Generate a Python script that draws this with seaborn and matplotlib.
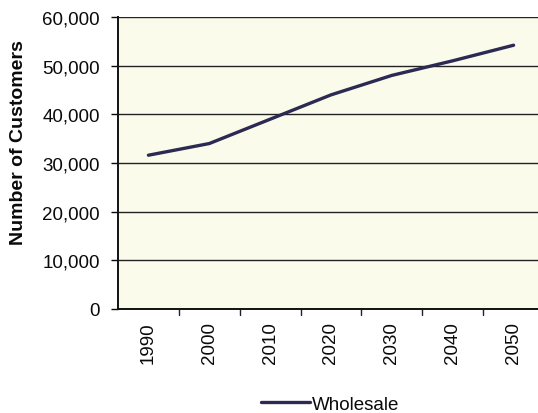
import matplotlib
matplotlib.use("Agg")
import matplotlib.pyplot as plt
import seaborn as sns
import pandas as pd
from matplotlib.ticker import FuncFormatter

years = ["1990", "2000", "2010", "2020", "2030", "2040", "2050"]
wholesale = [31600, 34000, 39000, 44000, 48000, 51000, 54200]
series_name = "Wholesale"

sns.set_theme(style="white")
plt.rcParams['font.family'] = ['Liberation Sans', 'DejaVu Sans']

df = pd.DataFrame({"Year": years, "Customers": wholesale, "Series": series_name})

fig = plt.figure(figsize=(5.38, 4.14), dpi=100)
ax = fig.add_axes([118/538, 104/414, 426/538, 292/414])
ax.set_facecolor("#fbfbec")

sns.lineplot(data=df, x="Year", y="Customers", hue="Series", palette=["#2b2a52"],
             linewidth=2.4, ax=ax, sort=False, legend=True)

ax.set_xlim(-0.5, len(years) - 0.5)
ax.set_ylim(0, 60000)
ax.set_yticks(range(0, 60001, 10000))
ax.yaxis.set_major_formatter(FuncFormatter(lambda v, p: f"{int(v):,}"))
ax.grid(axis="y", color="#222222", linewidth=1.0)
ax.set_axisbelow(True)

# category ticks between categories
ax.set_xticks(range(len(years)))
ax.set_xticklabels(years, rotation=90, fontsize=13.5, color="#0a0a0a")
ax.tick_params(axis="x", length=0, pad=9)
for b in [i - 0.5 for i in range(1, len(years))]:
    ax.plot([b, b], [0, -1200], color="#222222", lw=1.0, clip_on=False)
ax.tick_params(axis="y", labelsize=13.5, colors="#0a0a0a", length=5, width=1.0, direction="out", left=True, pad=8)

for s in ["top", "right"]:
    ax.spines[s].set_visible(False)
for s in ["left", "bottom"]:
    ax.spines[s].set_color("#111111")
    ax.spines[s].set_linewidth(1.4)

ax.set_xlabel("")
ax.set_ylabel("")
fig.text(19/538, 1 - 143/414, "Number of Customers", rotation=90, ha="center", va="center",
         fontsize=14, fontweight="bold", color="#0a0a0a")

leg = ax.legend(loc="center", bbox_to_anchor=(330/538, 9/414), bbox_transform=fig.transFigure,
                frameon=False, fontsize=13.5, handlelength=2.6, handletextpad=0.1)
for t in leg.get_texts():
    t.set_color("#0a0a0a")

fig.savefig("out.png", dpi=100)
